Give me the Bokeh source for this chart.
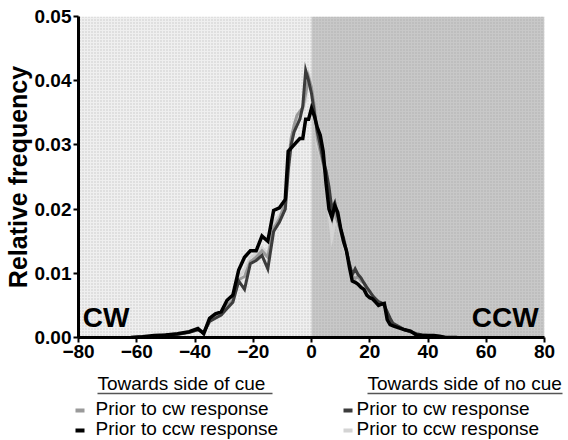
from bokeh.plotting import figure
from bokeh.models import Range1d, FixedTicker, BoxAnnotation, Label, NumeralTickFormatter
from bokeh.layouts import column
from bokeh.core.properties import value
from bokeh.embed import file_html
from bokeh.resources import INLINE

# Offset from the cue (deg) and relative frequency of each response group
offset = [-62, -58, -54, -50, -46, -42, -39, -37, -35, -33, -31, -29, -27, -25, -23,
          -21, -19, -17, -15, -13, -11, -9, -8, -7, -6, -5, -4, -3, -2, -1, 0, 1, 2,
          3, 4, 5, 6, 7, 8, 9, 10, 11, 12, 13, 14, 15, 16, 17, 18, 19, 20, 21, 22,
          23, 24, 25, 26, 27, 28, 30, 32, 34, 36, 38, 40, 42, 44, 46, 50]

cue_cw = [0, 0, 0.0002, 0.0003, 0.0005, 0.0008, 0.0012, 0.0008, 0.0028, 0.0033, 0.0036,
          0.005, 0.0058, 0.009, 0.0095, 0.0118, 0.0125, 0.0135, 0.0125, 0.017, 0.0185,
          0.021, 0.027, 0.031, 0.033, 0.0346, 0.0352, 0.0358, 0.038, 0.0405, 0.039,
          0.036, 0.031, 0.029, 0.027, 0.025, 0.021, 0.019, 0.0195, 0.018, 0.0165,
          0.0148, 0.0135, 0.0115, 0.0095, 0.0092, 0.0095, 0.0088, 0.0085, 0.0075,
          0.007, 0.0065, 0.006, 0.0055, 0.0052, 0.005, 0.0035, 0.0025, 0.002, 0.0016,
          0.0012, 0.0009, 0.0005, 0.0003, 0.0002, 0.0002, 0.0001, 0, 0]

cue_ccw = [0, 0.0001, 0.0003, 0.0004, 0.0006, 0.0009, 0.0014, 0.0006, 0.003, 0.0037,
           0.004, 0.0058, 0.0066, 0.0105, 0.0125, 0.0135, 0.0135, 0.0158, 0.015, 0.0198,
           0.0202, 0.0215, 0.029, 0.0295, 0.03, 0.0305, 0.031, 0.031, 0.034, 0.034,
           0.0357, 0.0345, 0.0327, 0.0315, 0.029, 0.024, 0.02, 0.0187, 0.0205, 0.0195,
           0.017, 0.015, 0.0135, 0.011, 0.0088, 0.0086, 0.0083, 0.0078, 0.0075, 0.0066,
           0.0062, 0.006, 0.0055, 0.005, 0.0052, 0.0053, 0.0028, 0.002, 0.0018, 0.0015,
           0.0012, 0.001, 0.0004, 0.0003, 0.0003, 0.0003, 0.0002, 0, 0]

nocue_cw = [0, 0.0001, 0.0002, 0.0004, 0.0005, 0.0008, 0.0012, 0.0007, 0.0025, 0.003,
            0.0035, 0.0045, 0.0055, 0.0088, 0.0075, 0.0115, 0.012, 0.0128, 0.0107,
            0.0165, 0.018, 0.02, 0.026, 0.03, 0.032, 0.033, 0.034, 0.036, 0.0416, 0.04,
            0.038, 0.035, 0.032, 0.03, 0.0275, 0.026, 0.0235, 0.02, 0.021, 0.019, 0.017,
            0.0155, 0.0135, 0.0115, 0.0098, 0.0107, 0.0098, 0.0093, 0.0085, 0.0078,
            0.0072, 0.0065, 0.006, 0.0056, 0.0054, 0.005, 0.004, 0.003, 0.0022, 0.0017,
            0.0012, 0.0009, 0.0006, 0.0004, 0.0003, 0.0002, 0.0001, 0, 0]

nocue_ccw = [0, 0, 0.0002, 0.0003, 0.0005, 0.0008, 0.0012, 0.0008, 0.0027, 0.0034,
             0.0038, 0.0055, 0.0062, 0.0095, 0.0105, 0.0125, 0.013, 0.014, 0.013, 0.018,
             0.019, 0.0205, 0.025, 0.03, 0.032, 0.0335, 0.0345, 0.0355, 0.037, 0.041,
             0.0395, 0.036, 0.03, 0.0285, 0.0265, 0.0245, 0.0195, 0.0156, 0.018, 0.0175,
             0.016, 0.0145, 0.0128, 0.011, 0.009, 0.0095, 0.009, 0.0085, 0.0082, 0.0072,
             0.0068, 0.0063, 0.0058, 0.0054, 0.0052, 0.005, 0.0032, 0.0024, 0.002,
             0.0016, 0.0012, 0.0009, 0.0005, 0.0003, 0.0002, 0.0002, 0.0001, 0, 0]

x_ticks = [-80, -60, -40, -20, 0, 20, 40, 60, 80]
y_ticks = [0.0, 0.01, 0.02, 0.03, 0.04, 0.05]

group_titles = ["Towards side of cue", "Towards side of no cue"]
entry_labels = ["Prior to cw response", "Prior to ccw response"]
side_labels = ["CW", "CCW"]

FONT = "Liberation Sans"
C_CUE_CW = "#9a9a9a"
C_CUE_CCW = "#000000"
C_NOCUE_CW = "#3c3c3c"
C_NOCUE_CCW = "#d4d4d4"

p = figure(width=568, height=362, output_backend="svg", toolbar_location=None,
           x_range=Range1d(-80, 80), y_range=Range1d(0, 0.05),
           min_border_left=78, min_border_right=24, min_border_top=16,
           min_border_bottom=25)
p.frame_align = False
p.outline_line_color = None
p.xgrid.visible = False
p.ygrid.visible = False
p.background_fill_color = "white"
p.border_fill_color = "white"

# shaded halves: cue side (left) and no-cue side (right)
p.add_layout(BoxAnnotation(right=0, fill_color="#efefef", fill_alpha=1.0,
                           hatch_pattern="dot", hatch_color="#a8a8a8", hatch_scale=3,
                           hatch_alpha=0.6, line_color=None, level="underlay"))
p.add_layout(BoxAnnotation(left=0, fill_color="#c8c8c8", fill_alpha=1.0,
                           hatch_pattern="dot", hatch_color="#a4a4a4", hatch_scale=3,
                           hatch_alpha=0.7, line_color=None, level="underlay"))

p.line(offset, nocue_ccw, line_color=C_NOCUE_CCW, line_width=3, line_join="miter")
p.line(offset, cue_cw, line_color=C_CUE_CW, line_width=3, line_join="miter")
p.line(offset, nocue_cw, line_color=C_NOCUE_CW, line_width=3, line_join="miter")
p.line(offset, cue_ccw, line_color=C_CUE_CCW, line_width=3.5, line_join="miter")

for ax in (p.xaxis[0], p.yaxis[0]):
    ax.axis_line_width = 3
    ax.axis_line_color = "black"
    ax.major_tick_line_width = 2
    ax.major_tick_out = 5
    ax.major_tick_in = 0
    ax.minor_tick_line_color = None
    ax.major_label_text_font = FONT
    ax.major_label_text_font_style = "bold"
    ax.major_label_text_font_size = "19px"
    ax.major_label_text_color = "black"
    ax.major_label_standoff = 2

p.xaxis.ticker = FixedTicker(ticks=x_ticks)
p.yaxis.ticker = FixedTicker(ticks=y_ticks)
p.yaxis.formatter = NumeralTickFormatter(format="0.00")
p.yaxis.axis_label = "Relative frequency"
p.yaxis.axis_label_text_font = FONT
p.yaxis.axis_label_text_font_style = "bold"
p.yaxis.axis_label_text_font_size = "25px"
p.yaxis.axis_label_text_color = "black"
p.yaxis.axis_label_standoff = 0

p.add_layout(Label(x=-78.5, y=0.0031, text=side_labels[0], text_font=FONT,
                   text_font_style="bold", text_font_size="28px", text_color="black",
                   text_baseline="alphabetic", text_align="left"))
p.add_layout(Label(x=78, y=0.0031, text=side_labels[1], text_font=FONT,
                   text_font_style="bold", text_font_size="28px", text_color="black",
                   text_baseline="alphabetic", text_align="right"))

# legend strip under the chart, laid out in pixel rows
leg = figure(width=568, height=78, output_backend="svg", toolbar_location=None,
             x_range=Range1d(0, 568), y_range=Range1d(78, 0),
             min_border=0, min_border_left=0, min_border_right=0,
             min_border_top=0, min_border_bottom=0)
leg.frame_align = False
leg.axis.visible = False
leg.xgrid.visible = False
leg.ygrid.visible = False
leg.outline_line_color = None
leg.background_fill_color = "white"
leg.border_fill_color = "white"

title_x = [97, 367]
underline_end = [272, 562]
swatch_x0 = [75, 343]
swatch_x1 = [84, 352]
label_x = [95, 356]
title_y = 21
underline_y = 31
text_rows = [46, 66]
swatch_rows = [48, 68]
colors = [[C_CUE_CW, C_CUE_CCW], [C_NOCUE_CW, C_NOCUE_CCW]]

leg.text(x=title_x, y=[title_y] * 2, text=group_titles, text_font=value(FONT),
         text_font_size=value("19px"), text_color="black",
         text_baseline="alphabetic", text_align="left")
leg.segment(x0=title_x, y0=[underline_y] * 2, x1=underline_end, y1=[underline_y] * 2,
            line_color="#555555", line_width=1.5)
for g in range(2):
    leg.segment(x0=[swatch_x0[g]] * 2, y0=swatch_rows,
                x1=[swatch_x1[g]] * 2, y1=swatch_rows,
                line_color=colors[g], line_width=4)
    leg.text(x=[label_x[g]] * 2, y=text_rows, text=entry_labels, text_font=value(FONT),
             text_font_size=value("19px"), text_color="black",
             text_baseline="alphabetic", text_align="left")

layout = column(p, leg, spacing=0)
open("out.html", "w").write(file_html(layout, INLINE))
